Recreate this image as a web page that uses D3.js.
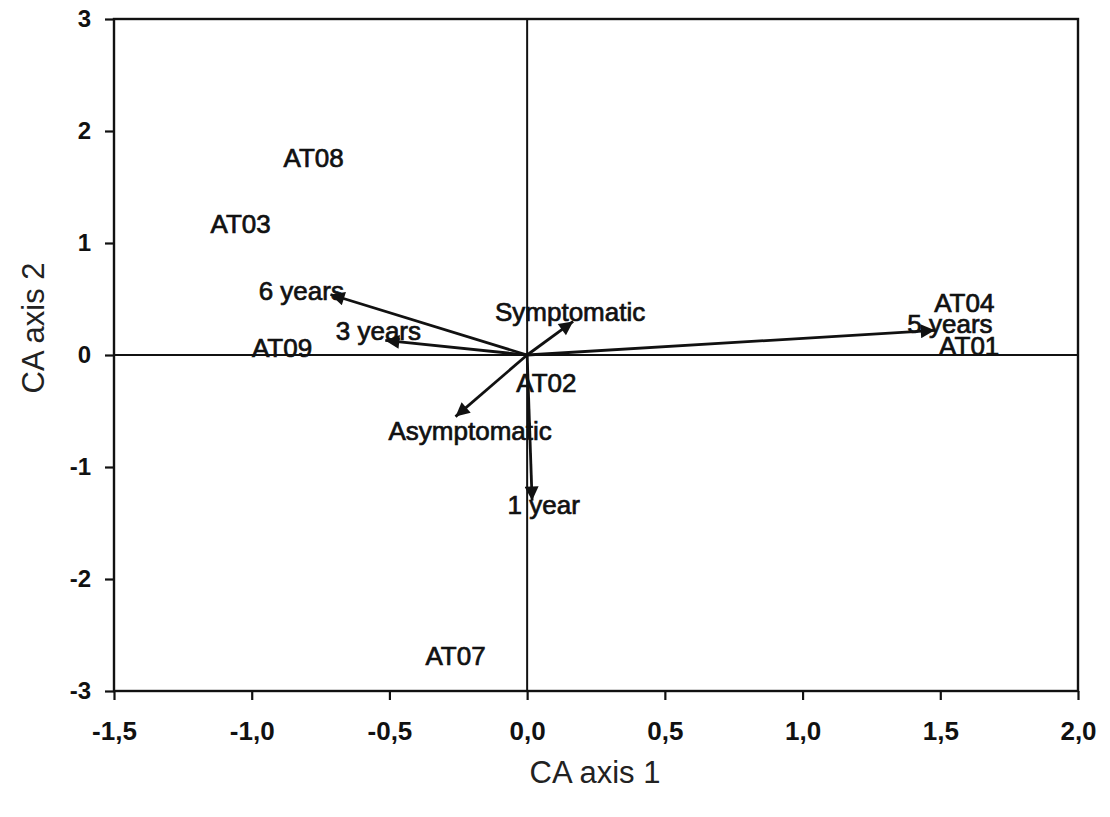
<!DOCTYPE html>
<html>
<head>
<meta charset="utf-8">
<script src="https://cdn.jsdelivr.net/npm/d3@7"></script>
<style>
  html, body { margin: 0; padding: 0; background: #fff; }
  svg { display: block; font-family: "Liberation Sans", Arial, sans-serif; }
</style>
</head>
<body>
<svg id="chart" width="1110" height="817"></svg>
<script>
// ---- data ----
const pointNames = ["AT08", "AT03", "AT09", "AT04", "AT01", "AT02", "AT07"];
const pointX = [-0.775, -1.04, -0.89, 1.587, 1.605, 0.07, -0.26];
const pointY = [1.76, 1.17, 0.06, 0.46, 0.08, -0.25, -2.69];

const arrowNames = ["6 years", "3 years", "Symptomatic", "Asymptomatic", "1 year", "5 years"];
const arrowX = [-0.714, -0.515, 0.167, -0.26, 0.018, 1.48];
const arrowY = [0.54, 0.13, 0.30, -0.55, -1.30, 0.22];
const arrowLabelX = [-0.82, -0.54, 0.156, -0.207, 0.06, 1.535];
const arrowLabelY = [0.57, 0.21, 0.38, -0.68, -1.34, 0.28];

const xTickValues = [-1.5, -1.0, -0.5, 0.0, 0.5, 1.0, 1.5, 2.0];
const xTickLabels = ["-1,5", "-1,0", "-0,5", "0,0", "0,5", "1,0", "1,5", "2,0"];
const yTickValues = [-3, -2, -1, 0, 1, 2, 3];
const yTickLabels = ["-3", "-2", "-1", "0", "1", "2", "3"];

const xTitle = "CA axis 1";
const yTitle = "CA axis 2";

// ---- layout ----
const L = 114, R = 1078, T = 19, B = 691;
const svg = d3.select("#chart");
const x = d3.scaleLinear().domain([-1.5, 2.0]).range([L, R]);
const y = d3.scaleLinear().domain([-3, 3]).range([B, T]);

// arrowhead marker
svg.append("defs").append("marker")
  .attr("id", "ah").attr("viewBox", "0 0 10 10")
  .attr("refX", 10).attr("refY", 5)
  .attr("markerWidth", 7).attr("markerHeight", 5)
  .attr("markerUnits", "strokeWidth")
  .attr("orient", "auto")
  .append("path").attr("d", "M0,0 L10,5 L0,10 Z").attr("fill", "#111");

// frame
svg.append("rect").attr("x", L).attr("y", T).attr("width", R - L).attr("height", B - T)
  .attr("fill", "none").attr("stroke", "#111").attr("stroke-width", 2.4);

// zero lines
svg.append("line").attr("x1", x(0)).attr("x2", x(0)).attr("y1", T).attr("y2", B)
  .attr("stroke", "#111").attr("stroke-width", 2);
svg.append("line").attr("x1", L).attr("x2", R).attr("y1", y(0)).attr("y2", y(0))
  .attr("stroke", "#111").attr("stroke-width", 2);

// axes
const xAxis = d3.axisBottom(x).tickValues(xTickValues)
  .tickFormat((d, i) => xTickLabels[i]).tickSize(9).tickSizeOuter(0).tickPadding(22);
const gx = svg.append("g").attr("transform", `translate(0,${B})`).call(xAxis);
gx.select(".domain").remove();
gx.selectAll("line").attr("stroke", "#111").attr("stroke-width", 2.2);
gx.selectAll("text").attr("fill", "#111").attr("font-size", 26).attr("font-weight", "bold")
  .attr("font-family", "Liberation Sans, Arial, sans-serif");

const yAxis = d3.axisLeft(y).tickValues(yTickValues)
  .tickFormat((d, i) => yTickLabels[i]).tickSize(9).tickSizeOuter(0).tickPadding(14);
const gy = svg.append("g").attr("transform", `translate(${L},0)`).call(yAxis);
gy.select(".domain").remove();
gy.selectAll("line").attr("stroke", "#111").attr("stroke-width", 2.2);
gy.selectAll("text").attr("fill", "#111").attr("font-size", 24).attr("font-weight", "bold")
  .attr("font-family", "Liberation Sans, Arial, sans-serif");

// titles
svg.append("text").attr("x", 595).attr("y", 783).attr("text-anchor", "middle")
  .attr("font-size", 31).attr("fill", "#222").text(xTitle);
svg.append("text").attr("transform", `translate(44,328) rotate(-90)`)
  .attr("text-anchor", "middle").attr("font-size", 31).attr("fill", "#222").text(yTitle);

// arrows
svg.append("g").selectAll("line").data(arrowNames).join("line")
  .attr("x1", x(0)).attr("y1", y(0))
  .attr("x2", (d, i) => x(arrowX[i])).attr("y2", (d, i) => y(arrowY[i]))
  .attr("stroke", "#111").attr("stroke-width", 2.8)
  .attr("marker-end", "url(#ah)");

// arrow labels
svg.append("g").selectAll("text").data(arrowNames).join("text")
  .attr("x", (d, i) => x(arrowLabelX[i])).attr("y", (d, i) => y(arrowLabelY[i]))
  .attr("text-anchor", "middle").attr("dominant-baseline", "central")
  .attr("font-size", 26).attr("fill", "#111")
  .attr("stroke", "#111").attr("stroke-width", 0.7)
  .text(d => d);

// point labels
svg.append("g").selectAll("text").data(pointNames).join("text")
  .attr("x", (d, i) => x(pointX[i])).attr("y", (d, i) => y(pointY[i]))
  .attr("text-anchor", "middle").attr("dominant-baseline", "central")
  .attr("font-size", 26).attr("fill", "#111")
  .attr("stroke", "#111").attr("stroke-width", 0.7)
  .text(d => d);
</script>
</body>
</html>
